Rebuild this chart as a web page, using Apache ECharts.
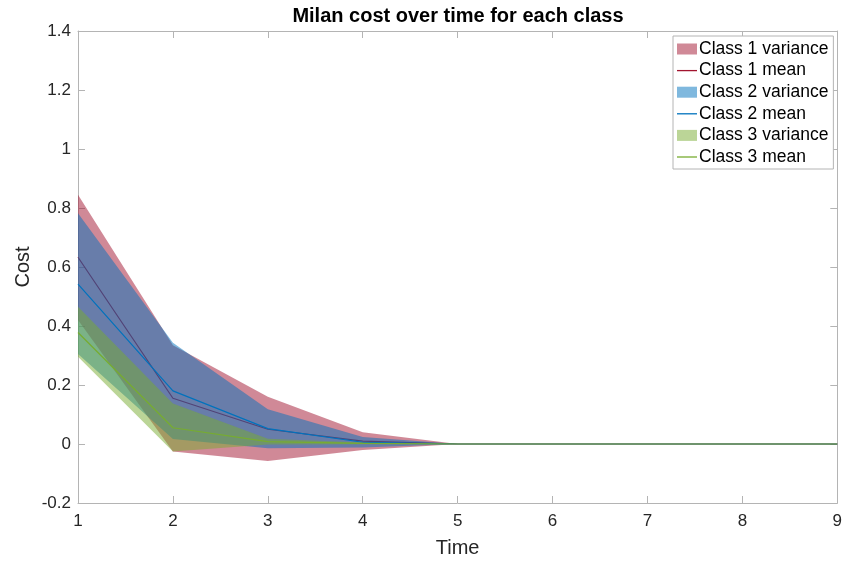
<!DOCTYPE html>
<html>
<head>
<meta charset="utf-8">
<script src="https://cdn.jsdelivr.net/npm/echarts@6/dist/echarts.min.js"></script>
<style>
  html, body { margin: 0; padding: 0; background: #fff; }
  #chart { width: 845px; height: 563px; }
</style>
</head>
<body>
<div id="chart"></div>
<script>
// Time steps
const timeSteps = [1, 2, 3, 4, 5, 6, 7, 8, 9];

// Class 1: mean cost and variance band bounds
const class1Mean  = [0.633, 0.155, 0.050, 0.010, 0, 0, 0, 0, 0];
const class1Upper = [0.845, 0.335, 0.160, 0.040, 0, 0, 0, 0, 0];
const class1Lower = [0.420, -0.025, -0.058, -0.020, 0, 0, 0, 0, 0];

// Class 2
const class2Mean  = [0.542, 0.180, 0.052, 0.006, 0, 0, 0, 0, 0];
const class2Upper = [0.782, 0.343, 0.118, 0.024, 0, 0, 0, 0, 0];
const class2Lower = [0.305, 0.017, -0.014, -0.012, 0, 0, 0, 0, 0];

// Class 3
const class3Mean  = [0.378, 0.055, 0.008, 0.002, 0, 0, 0, 0, 0];
const class3Upper = [0.465, 0.137, 0.018, 0.005, 0, 0, 0, 0, 0];
const class3Lower = [0.296, -0.025, -0.002, -0.001, 0, 0, 0, 0, 0];

const classes = [
  { label: 'Class 1', mean: class1Mean, upper: class1Upper, lower: class1Lower, rgb: [162, 20, 47] },
  { label: 'Class 2', mean: class2Mean, upper: class2Upper, lower: class2Lower, rgb: [0, 114, 189] },
  { label: 'Class 3', mean: class3Mean, upper: class3Upper, lower: class3Lower, rgb: [119, 172, 48] }
];

const FONT = '"Liberation Sans", Arial, Helvetica, sans-serif';
const AXIS_GREY = '#b4b4b4';
const TEXT = '#262626';

// Band polygon: upper bound left->right, then lower bound right->left
function bandRenderer(c, fill) {
  return function (params, api) {
    if (params.dataIndex !== 0) return null;
    const top = timeSteps.map((t, i) => api.coord([t, c.upper[i]]));
    const bottom = timeSteps.map((t, i) => api.coord([t, c.lower[i]])).reverse();
    return {
      type: 'polygon',
      shape: { points: top.concat(bottom) },
      style: { fill: fill, stroke: null },
      silent: true
    };
  };
}

// Each class draws its band, then its mean, stacked on top of the previous class
const series = [];
const legendData = [];
classes.forEach((c, k) => {
  const solid = `rgb(${c.rgb.join(',')})`;
  const fill = `rgba(${c.rgb.join(',')},0.5)`;
  series.push({
    type: 'custom', name: c.label + ' variance',
    data: timeSteps.map((t, i) => [t, c.lower[i], c.upper[i]]),
    encode: { x: 0, y: [1, 2] },
    renderItem: bandRenderer(c, fill),
    itemStyle: { color: fill }, silent: true, clip: true, z: 2 + 2 * k
  });
  series.push({
    type: 'line', name: c.label + ' mean',
    data: timeSteps.map((t, i) => [t, c.mean[i]]), symbol: 'none',
    lineStyle: { color: solid, width: 1.2 }, itemStyle: { color: solid }, z: 3 + 2 * k
  });
  legendData.push({ name: c.label + ' variance', icon: 'rect', itemStyle: { color: fill, borderWidth: 0 } });
  legendData.push({ name: c.label + ' mean', icon: 'path://M0,0 L20,0 L20,1.3 L0,1.3 Z', itemStyle: { color: solid, borderWidth: 0 } });
});

const chart = echarts.init(document.getElementById('chart'), null, { renderer: 'canvas' });
chart.setOption({
  animation: false,
  backgroundColor: '#fff',
  title: {
    text: 'Milan cost over time for each class',
    left: 458, top: 6, textAlign: 'center', padding: 0,
    textStyle: { fontFamily: FONT, fontSize: 20, fontWeight: 'bold', color: '#000' }
  },
  grid: { left: 78, right: 7, top: 31, bottom: 59, containLabel: false },
  legend: {
    orient: 'vertical', left: 673, top: 36, z: 20,
    padding: [4, 5, 3, 4],
    itemWidth: 20, itemHeight: 11, itemGap: 3.6,
    backgroundColor: '#fff', borderColor: '#b4b4b4', borderWidth: 1, borderRadius: 0,
    textStyle: { fontFamily: FONT, fontSize: 17.5, color: '#000', padding: [0, 0, 0, -3] },
    data: legendData
  },
  xAxis: [{
    type: 'value', min: 1, max: 9, interval: 1,
    name: 'Time', nameLocation: 'middle', nameGap: 35, nameMoveOverlap: false,
    nameTextStyle: { fontFamily: FONT, fontSize: 20, color: TEXT },
    axisLine: { show: true, onZero: false, lineStyle: { color: AXIS_GREY, width: 1 } },
    axisTick: { show: true, inside: true, length: 7, lineStyle: { color: AXIS_GREY } },
    axisLabel: { fontFamily: FONT, fontSize: 17, color: TEXT, margin: 10 },
    splitLine: { show: false }
  }, {
    type: 'value', min: 1, max: 9, interval: 1, position: 'top',
    axisLine: { show: true, onZero: false, lineStyle: { color: AXIS_GREY, width: 1 } },
    axisTick: { show: true, inside: true, length: 7, lineStyle: { color: AXIS_GREY } },
    axisLabel: { show: false }, splitLine: { show: false }
  }],
  yAxis: [{
    type: 'value', min: -0.2, max: 1.4, interval: 0.2,
    name: 'Cost', nameLocation: 'middle', nameGap: 45, nameRotate: 90, nameMoveOverlap: false,
    nameTextStyle: { fontFamily: FONT, fontSize: 20, color: TEXT },
    axisLine: { show: true, onZero: false, lineStyle: { color: AXIS_GREY, width: 1 } },
    axisTick: { show: true, inside: true, length: 7, lineStyle: { color: AXIS_GREY } },
    axisLabel: {
      fontFamily: FONT, fontSize: 17, color: TEXT, margin: 7,
      formatter: v => String(Math.round(v * 10) / 10)
    },
    splitLine: { show: false }
  }, {
    type: 'value', min: -0.2, max: 1.4, interval: 0.2, position: 'right',
    axisLine: { show: true, onZero: false, lineStyle: { color: AXIS_GREY, width: 1 } },
    axisTick: { show: true, inside: true, length: 7, lineStyle: { color: AXIS_GREY } },
    axisLabel: { show: false }, splitLine: { show: false }
  }],
  series: series
});
</script>
</body>
</html>
